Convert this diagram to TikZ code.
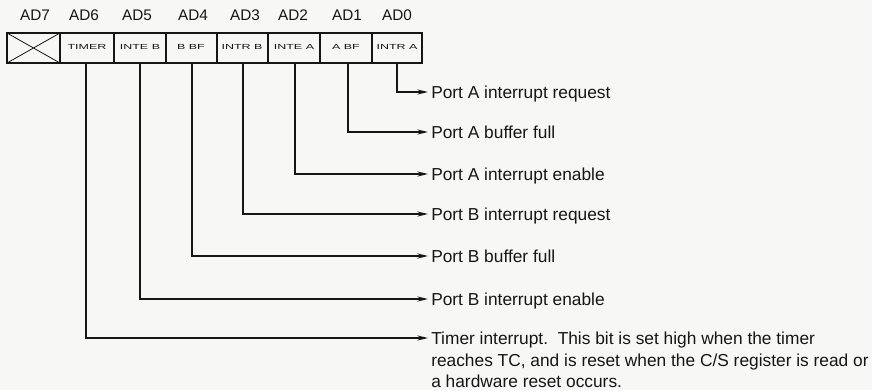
\documentclass[tikz,border=0pt]{standalone}
\usepackage{fontspec}
\usepackage{graphicx}
\setmainfont{Liberation Sans}
\usetikzlibrary{arrows.meta}
\definecolor{ink}{RGB}{22,22,22}
\definecolor{bgc}{RGB}{247,247,246}
\newcommand{\celltext}[1]{\scalebox{1.7}[1]{#1}}
\tikzset{
  conn/.style={line width=1.1pt, draw=ink, -{Stealth[length=8pt,width=3.8pt]}},
  lbl/.style={font=\fontsize{13}{16.1}\selectfont, text=ink, inner sep=0pt, anchor=west, text height=9.3pt, text depth=0pt},
  longlbl/.style={font=\fontsize{13}{16.1}\selectfont, text=ink, inner sep=0pt, anchor=north west, align=left},
  bitlbl/.style={font=\fontsize{11.5}{13}\selectfont, text=ink, inner sep=0pt},
  celltxt/.style={font=\fontsize{5.5}{6}\selectfont, text=ink, inner sep=0pt},
  outer/.style={draw=ink, line width=1.6pt},
  divider/.style={draw=ink, line width=0.8pt},
}
\begin{document}
\begin{tikzpicture}[x=0.75pt, y=-0.75pt]
  \fill[bgc] (0,0) rectangle (872,390);
  \useasboundingbox (0,0) rectangle (872,390);

  % bit labels
  \node[bitlbl] (ad7) at (35,15) {AD7};
  \node[bitlbl] (ad6) at (84,15) {AD6};
  \node[bitlbl] (ad5) at (137,15) {AD5};
  \node[bitlbl] (ad4) at (193,15) {AD4};
  \node[bitlbl] (ad3) at (245,15) {AD3};
  \node[bitlbl] (ad2) at (293,15) {AD2};
  \node[bitlbl] (ad1) at (347,15) {AD1};
  \node[bitlbl] (ad0) at (397,15) {AD0};

  % register box
  \draw[outer] (7,33) rectangle (422,63);
  \foreach \x in {60,114,166,217,268,320,372}
    \draw[divider] (\x,33) -- (\x,63);
  \draw[divider, line width=0.6pt] (7,33) -- (60,63);
  \draw[divider, line width=0.6pt] (7,63) -- (60,33);

  % cell texts
  \node[celltxt] (c6) at (87,47) {\celltext{TIMER}};
  \node[celltxt] (c5) at (140,47) {\celltext{INTE B}};
  \node[celltxt] (c4) at (191,47) {\celltext{B BF}};
  \node[celltxt] (c3) at (242,47) {\celltext{INTR B}};
  \node[celltxt] (c2) at (294,47) {\celltext{INTE A}};
  \node[celltxt] (c1) at (346,47) {\celltext{A BF}};
  \node[celltxt] (c0) at (397,47) {\celltext{INTR A}};

  % connector start points (cell bottoms)
  \coordinate (b6) at (86,63);
  \coordinate (b5) at (140,63);
  \coordinate (b4) at (192,63);
  \coordinate (b3) at (243,63);
  \coordinate (b2) at (295,63);
  \coordinate (b1) at (348,63);
  \coordinate (b0) at (397,63);

  % descriptions
  \node[lbl] (t0) at (431,92) {Port A interrupt request};
  \node[lbl] (t1) at (431,132) {Port A buffer full};
  \node[lbl] (t2) at (431,174) {Port A interrupt enable};
  \node[lbl] (t3) at (431,214) {Port B interrupt request};
  \node[lbl] (t4) at (431,256) {Port B buffer full};
  \node[lbl] (t5) at (431,299) {Port B interrupt enable};
  \node[longlbl] (t6) at (431,331.8) {Timer interrupt.\ \ This bit is set high when the timer\\reaches TC, and is reset when the C/S register is read or\\a hardware reset occurs.};
  \coordinate (a6) at (428,338);

  % connectors
  \draw[conn, shorten >=2.25pt] (b0) |- (t0.west);
  \draw[conn, shorten >=2.25pt] (b1) |- (t1.west);
  \draw[conn, shorten >=2.25pt] (b2) |- (t2.west);
  \draw[conn, shorten >=2.25pt] (b3) |- (t3.west);
  \draw[conn, shorten >=2.25pt] (b4) |- (t4.west);
  \draw[conn, shorten >=2.25pt] (b5) |- (t5.west);
  \draw[conn] (b6) |- (a6);
\end{tikzpicture}
\end{document}
